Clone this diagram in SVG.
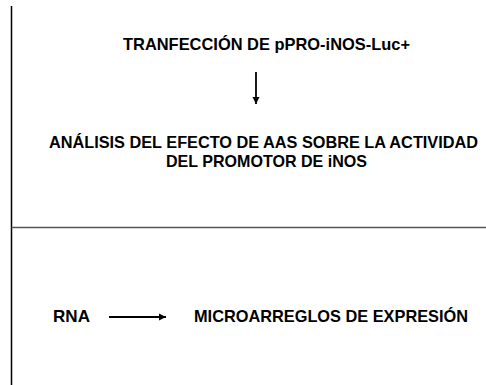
<svg xmlns="http://www.w3.org/2000/svg" width="486" height="385" viewBox="0 0 486 385">
  <style>
    .t { font-family: "Liberation Sans", Arial, sans-serif; font-weight: bold; font-size: 17px; fill: #000; }
    .s { font-size: 16px; }
    .c { stroke: #000; stroke-width: 1.8; fill: none; }
  </style>
  <defs>
    <marker id="ah" viewBox="0 0 10 10" refX="10" refY="5" markerWidth="4" markerHeight="4" orient="auto" markerUnits="strokeWidth">
      <path d="M0,0 L10,5 L0,10 Z" fill="#000"/>
    </marker>
  </defs>
  <rect width="486" height="385" fill="#fff"/>
  <g id="frame">
    <line x1="11.5" y1="6" x2="11.5" y2="385" stroke="#000" stroke-width="1.5"/>
    <line x1="11.5" y1="227.5" x2="486" y2="227.5" stroke="#555" stroke-width="1.5"/>
  </g>
  <g id="connectors">
    <line class="c" x1="256" y1="72" x2="256" y2="104" marker-end="url(#ah)"/>
    <line class="c" x1="109" y1="317" x2="166" y2="317" marker-end="url(#ah)"/>
  </g>
  <g id="node-transfeccion">
    <text class="t" x="123" y="50" textLength="287" lengthAdjust="spacingAndGlyphs">TRANFECCIÓN DE pPRO-iNOS-Luc+</text>
  </g>
  <g id="node-analisis">
    <text class="t s" x="49" y="148" textLength="429" lengthAdjust="spacingAndGlyphs">ANÁLISIS DEL EFECTO DE AAS SOBRE LA ACTIVIDAD</text>
    <text class="t" x="166" y="167" textLength="201" lengthAdjust="spacingAndGlyphs">DEL PROMOTOR DE iNOS</text>
  </g>
  <g id="node-rna">
    <text class="t" x="53" y="322" textLength="37" lengthAdjust="spacingAndGlyphs">RNA</text>
  </g>
  <g id="node-microarreglos">
    <text class="t" x="194" y="322" textLength="274" lengthAdjust="spacingAndGlyphs">MICROARREGLOS DE EXPRESIÓN</text>
  </g>
</svg>
